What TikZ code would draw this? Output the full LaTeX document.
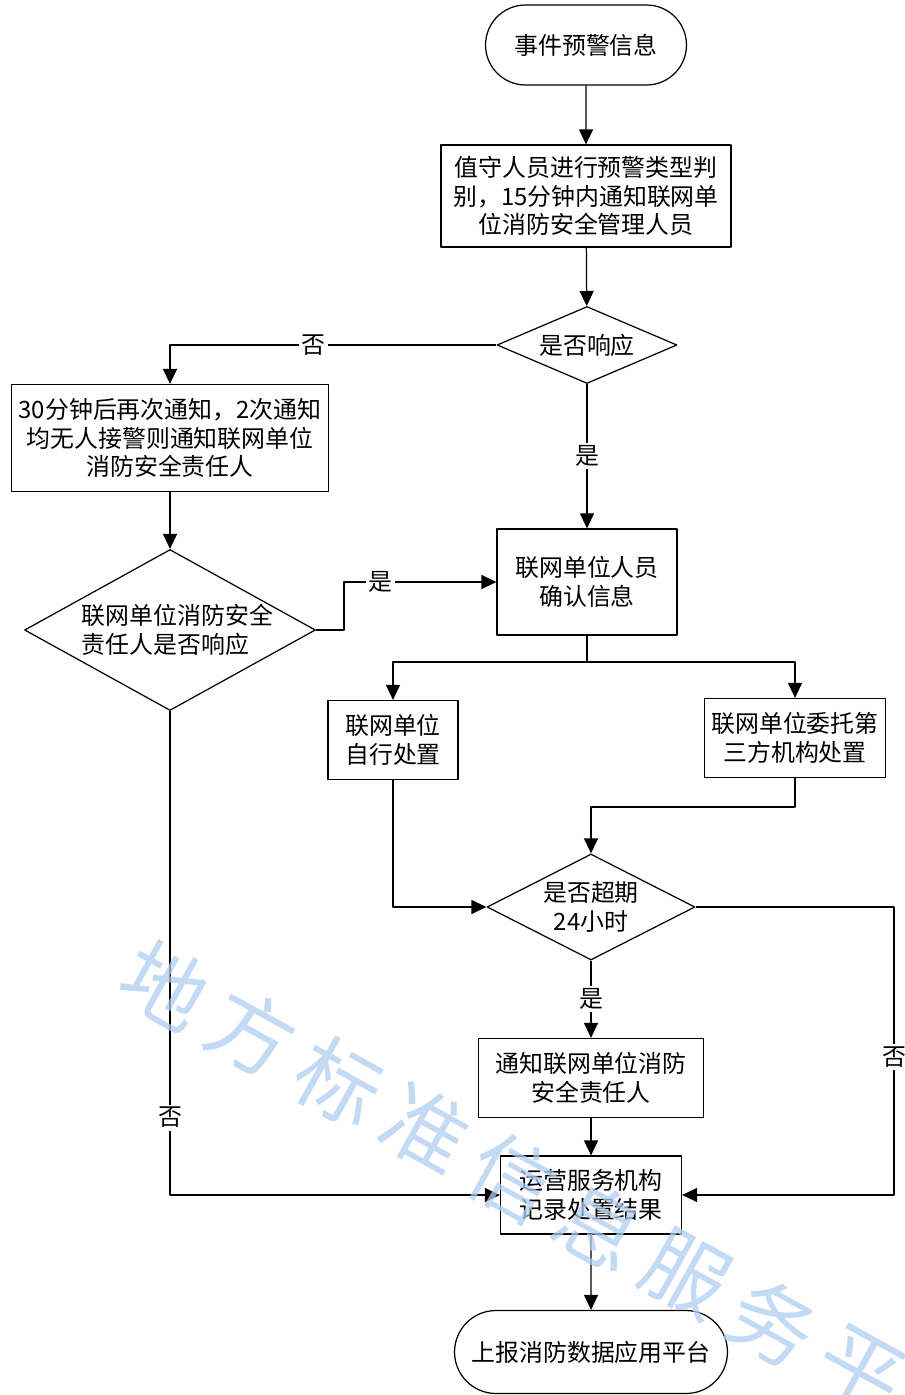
\documentclass[tikz,border=0pt]{standalone}
\usepackage{fontspec}
\setmainfont{Noto Sans CJK SC}
\usetikzlibrary{arrows.meta,shapes.geometric,shapes.misc}
\definecolor{wmblue}{RGB}{175,205,240}

\begin{document}
\begin{tikzpicture}[x=0.02cm, y=-0.02cm, font=\fontsize{13.6}{16.2}\selectfont, line join=round, line width=0.7pt, >={Triangle[length=0.3cm,width=0.28cm]},
	box/.style={draw, align=center, inner sep=0pt},
	term/.style={draw, rounded rectangle, align=center, inner sep=0pt},
	ask/.style={draw, diamond, align=center, inner sep=-6pt},
	lbl/.style={fill=white, inner sep=1.5pt},
	wmark/.style={text=wmblue, text opacity=0.75, font=\fontsize{48}{48}\selectfont, rotate=-29}]
	\useasboundingbox (0,0) rectangle (905,1395);
	% boxes
	\node[term, minimum width=4.02cm, minimum height=1.6cm] (start) at (586,45) {事件预警信息};
	\node[box, minimum width=5.8cm, minimum height=2.04cm] (judge) at (586,196) {值守人员进行预警类型判\\别，15分钟内通知联网单\\位消防安全管理人员};
	\node[ask, minimum width=3.6cm, minimum height=1.54cm] (resp) at (587,345) {是否响应};
	\node[box, minimum width=6.34cm, minimum height=2.14cm] (renotify) at (170,438) {30分钟后再次通知，2次通知\\均无人接警则通知联网单位\\消防安全责任人};
	\node[ask, minimum width=5.82cm, minimum height=3.22cm, align=left, inner sep=-20pt] (chief) at (170,630) {\hspace*{0.3cm}联网单位消防安全\\\hspace*{0.3cm}责任人是否响应};
	\node[box, minimum width=3.6cm, minimum height=2.12cm] (confirm) at (587,582) {联网单位人员\\确认信息};
	\node[box, minimum width=2.6cm, minimum height=1.58cm] (self) at (393,740) {联网单位\\自行处置};
	\node[box, minimum width=3.62cm, minimum height=1.58cm] (third) at (795,738) {联网单位委托第\\三方机构处置};
	\node[ask, minimum width=4.16cm, minimum height=2.12cm] (overdue) at (591,907) {是否超期\\24小时};
	\node[box, minimum width=4.5cm, minimum height=1.58cm] (inform) at (591,1078) {通知联网单位消防\\安全责任人};
	\node[box, minimum width=3.62cm, minimum height=1.56cm] (record) at (591,1195) {运营服务机构\\记录处置结果};
	\node[term, minimum width=5.46cm, minimum height=1.66cm] (report) at (591,1352) {上报消防数据应用平台};
	\coordinate (split) at (587,662);
	\coordinate (merge) at (795,807);
	\coordinate (turn) at (894,907);
	% connectors
	\draw[->] (start) -- (judge);
	\draw[->] (judge) -- (resp);
	\draw[->] (resp.west) -| node[lbl, pos=0.28]{否} (renotify.north);
	\draw[->] (resp) -- node[lbl]{是} (confirm);
	\draw[->] (renotify) -- (chief);
	\draw[->] (chief.east) -- ++(28,0) |- node[lbl, pos=0.62]{是} (confirm.west);
	\draw (confirm.south) -- (split);
	\draw[->] (split) -| (self.north);
	\draw[->] (split) -| (third.north);
	\draw[->] (third.south) -- (merge) -| (overdue.north);
	\draw[->] (self.south) |- (overdue.west);
	\draw[->] (overdue) -- node[lbl]{是} (inform);
	\draw[->] (overdue.east) -- (turn) |- node[lbl, pos=0.26]{否} (record.east);
	\draw[->] (inform) -- (record);
	\draw[->] (chief.south) |- node[lbl, pos=0.42]{否} (record.west);
	\draw[->] (record) -- (report);
	% watermark
	\foreach \c [count=\i from 0] in {地,方,标,准,信,息,服,务,平}
		\node[wmark] (wm\i) at ({165+86.9*\i},{985+48.2*\i}) {\c};
\end{tikzpicture}
\end{document}
